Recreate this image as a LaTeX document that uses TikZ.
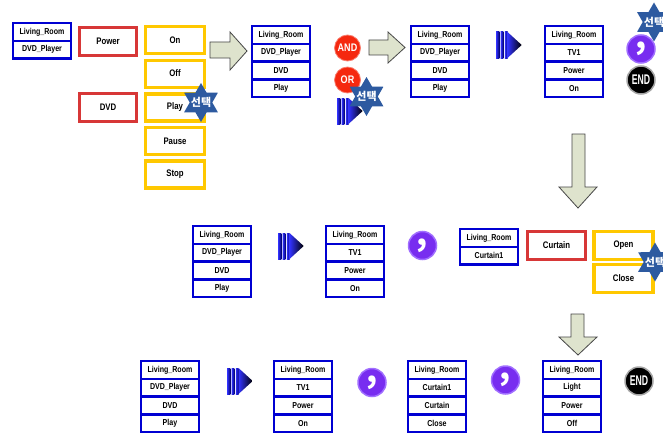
\documentclass[tikz,border=0pt]{standalone}
\usepackage{fontspec}
\setmainfont{Liberation Sans}
\newfontfamily\nar[FakeStretch=0.82]{Liberation Sans}
\newfontfamily\narr[FakeStretch=0.62]{Liberation Sans}
\newfontfamily\kr{Noto Sans CJK KR}
\usetikzlibrary{shapes.geometric}

\definecolor{frameblue}{RGB}{0,0,210}
\definecolor{boxred}{RGB}{215,55,55}
\definecolor{boxyellow}{RGB}{255,200,0}
\definecolor{arrowfill}{RGB}{222,227,205}
\definecolor{arrowline}{RGB}{70,70,70}
\definecolor{andred}{RGB}{245,40,15}
\definecolor{commapurple}{RGB}{120,45,240}
\definecolor{commaring}{RGB}{160,110,255}
\definecolor{starblue}{RGB}{45,90,160}
\definecolor{chevlight}{RGB}{50,50,255}
\definecolor{chevdark}{RGB}{0,0,110}

\tikzset{
 cell/.style={draw=frameblue, line width=2.4pt, fill=white, minimum width=57.6pt, minimum height=17.7pt, inner sep=0pt, font=\nar\bfseries\fontsize{8.6}{9}\selectfont},
 redbox/.style={draw=boxred, line width=2.6pt, fill=white, minimum width=57.5pt, minimum height=28.5pt, inner sep=0pt, font=\nar\bfseries\fontsize{9.5}{10}\selectfont},
 yelbox/.style={draw=boxyellow, line width=3.2pt, fill=white, minimum width=59pt, minimum height=27pt, inner sep=0pt, font=\nar\bfseries\fontsize{9.5}{10}\selectfont},
 blockarrow/.style={fill=arrowfill, draw=arrowline, line width=0.8pt, line join=miter},
 andball/.style={circle, fill=andred, draw=andred!60!white, line width=0.8pt, minimum size=26pt, inner sep=0pt, text=white, font=\nar\bfseries\fontsize{11}{12}\selectfont},
 commaball/.style={circle, fill=commapurple, draw=commaring, line width=1.5pt, minimum size=28pt, inner sep=0pt},
 commatext/.style={text=white, inner sep=0pt, font=\kr\bfseries\fontsize{32}{32}\selectfont},
 endball/.style={circle, fill=black, draw=gray!70, line width=1.5pt, minimum size=28pt, inner sep=0pt, text=white, font=\narr\bfseries\fontsize{14}{14}\selectfont},
 selstar/.style={star, star points=6, star point ratio=1.73, fill=starblue, minimum size=39pt, inner sep=0pt},
 startext/.style={text=white, inner sep=0pt, font=\kr\bfseries\fontsize{11}{12}\selectfont},
}

% stack of cells: name, x left, y top, items
\newcommand\mystack[4]{%
  \foreach \txt [count=\i] in {#4} {
    \node[cell] (#1-\i) at ({#2+30}, {#3+1.2+8.85+(\i-1)*17.7}) {\txt};
  }%
}
% chevron: x left, y top
\newcommand\mychev[2]{%
  \shade[left color=chevlight, right color=chevdark] ({#1},{#2}) rectangle ({#1+3.3},{#2+26});
  \shade[left color=chevlight, right color=chevdark] ({#1+4.6},{#2}) rectangle ({#1+7.4},{#2+26});
  \shade[left color=chevlight, right color=chevdark] ({#1+8.8},{#2}) rectangle ({#1+11.5},{#2+26});
  \shade[left color=chevlight, right color=black] ({#1+11.5},{#2}) -- ({#1+25.7},{#2+13}) -- ({#1+11.5},{#2+26}) -- cycle;
}

\begin{document}
\begin{tikzpicture}[x=1pt,y=-1pt]
\useasboundingbox (0,0) rectangle (663,436);
\fill[white] (0,0) rectangle (663,436);
\clip (0,0) rectangle (663,436);

% ---------- top row ----------
\mystack{t0}{12}{22}{Living\_Room,DVD\_Player}
\node[redbox] (power) at (108,41.5) {Power};
\node[redbox] (dvd) at (108,107.5) {DVD};
\node[yelbox] (on) at (175,40) {On};
\node[yelbox] (off) at (175,73.6) {Off};
\node[yelbox] (play) at (175,107.5) {Play};
\node[yelbox] (pause) at (175,141) {Pause};
\node[yelbox] (stop) at (175,174.5) {Stop};
\node[selstar] (st1) at (201,102.5) {};
\node[startext] (st1t) at (st1) {선택};

\draw[blockarrow] (210,42) -- (230,42) -- (230,32) -- (247,51) -- (230,70) -- (230,58) -- (210,58) -- cycle;

\mystack{s1}{251}{25}{Living\_Room,DVD\_Player,DVD,Play}

\node[andball] (and) at (347.5,48) {AND};
\node[andball] (or) at (347.5,80) {OR};
\mychev{337}{98}
\node[selstar] (st2) at (366.5,96.5) {};
\node[startext] (st2t) at (st2) {선택};

\draw[blockarrow] (369,40) -- (388,40) -- (388,32) -- (405,47.5) -- (388,63) -- (388,55) -- (369,55) -- cycle;

\mystack{s2}{410}{25}{Living\_Room,DVD\_Player,DVD,Play}
\mychev{496}{32}
\mystack{s3}{544}{25}{Living\_Room,TV1,Power,On}

\node[commaball] (c1) at (641,49) {};
\node[commatext] (c1t) at (c1) {,};
\node[endball] (e1) at (641,80) {END};
\node[selstar] (st3) at (654,22) {};
\node[startext] (st3t) at (st3) {선택};

\draw[blockarrow] (572,134) -- (585,134) -- (585,187) -- (597,187) -- (578,208) -- (559,187) -- (572,187) -- cycle;

% ---------- middle row ----------
\mystack{m1}{192}{225}{Living\_Room,DVD\_Player,DVD,Play}
\mychev{278}{233}
\mystack{m2}{325}{225}{Living\_Room,TV1,Power,On}
\node[commaball] (c2) at (422.5,245.5) {};
\node[commatext] (c2t) at (c2) {,};
\mystack{m3}{459}{228}{Living\_Room,Curtain1}
\node[redbox] (curtain) at (556.5,245.5) {Curtain};
\node[yelbox, minimum height=28pt] (open) at (623.5,245.5) {Open};
\node[yelbox, minimum height=28pt] (close) at (623.5,278.5) {Close};
\node[selstar] (st4) at (655,262) {};
\node[startext] (st4t) at (st4) {선택};

\draw[blockarrow] (571,314) -- (584,314) -- (584,337) -- (597,337) -- (578,355) -- (559,337) -- (571,337) -- cycle;

% ---------- bottom row ----------
\mystack{b1}{140}{360}{Living\_Room,DVD\_Player,DVD,Play}
\mychev{227}{368}
\mystack{b2}{273}{360}{Living\_Room,TV1,Power,On}
\node[commaball] (c3) at (372,382.5) {};
\node[commatext] (c3t) at (c3) {,};
\mystack{b3}{407}{360}{Living\_Room,Curtain1,Curtain,Close}
\node[commaball] (c4) at (505.5,380) {};
\node[commatext] (c4t) at (c4) {,};
\mystack{b4}{542}{360}{Living\_Room,Light,Power,Off}
\node[endball] (e2) at (639,381) {END};
\end{tikzpicture}
\end{document}
